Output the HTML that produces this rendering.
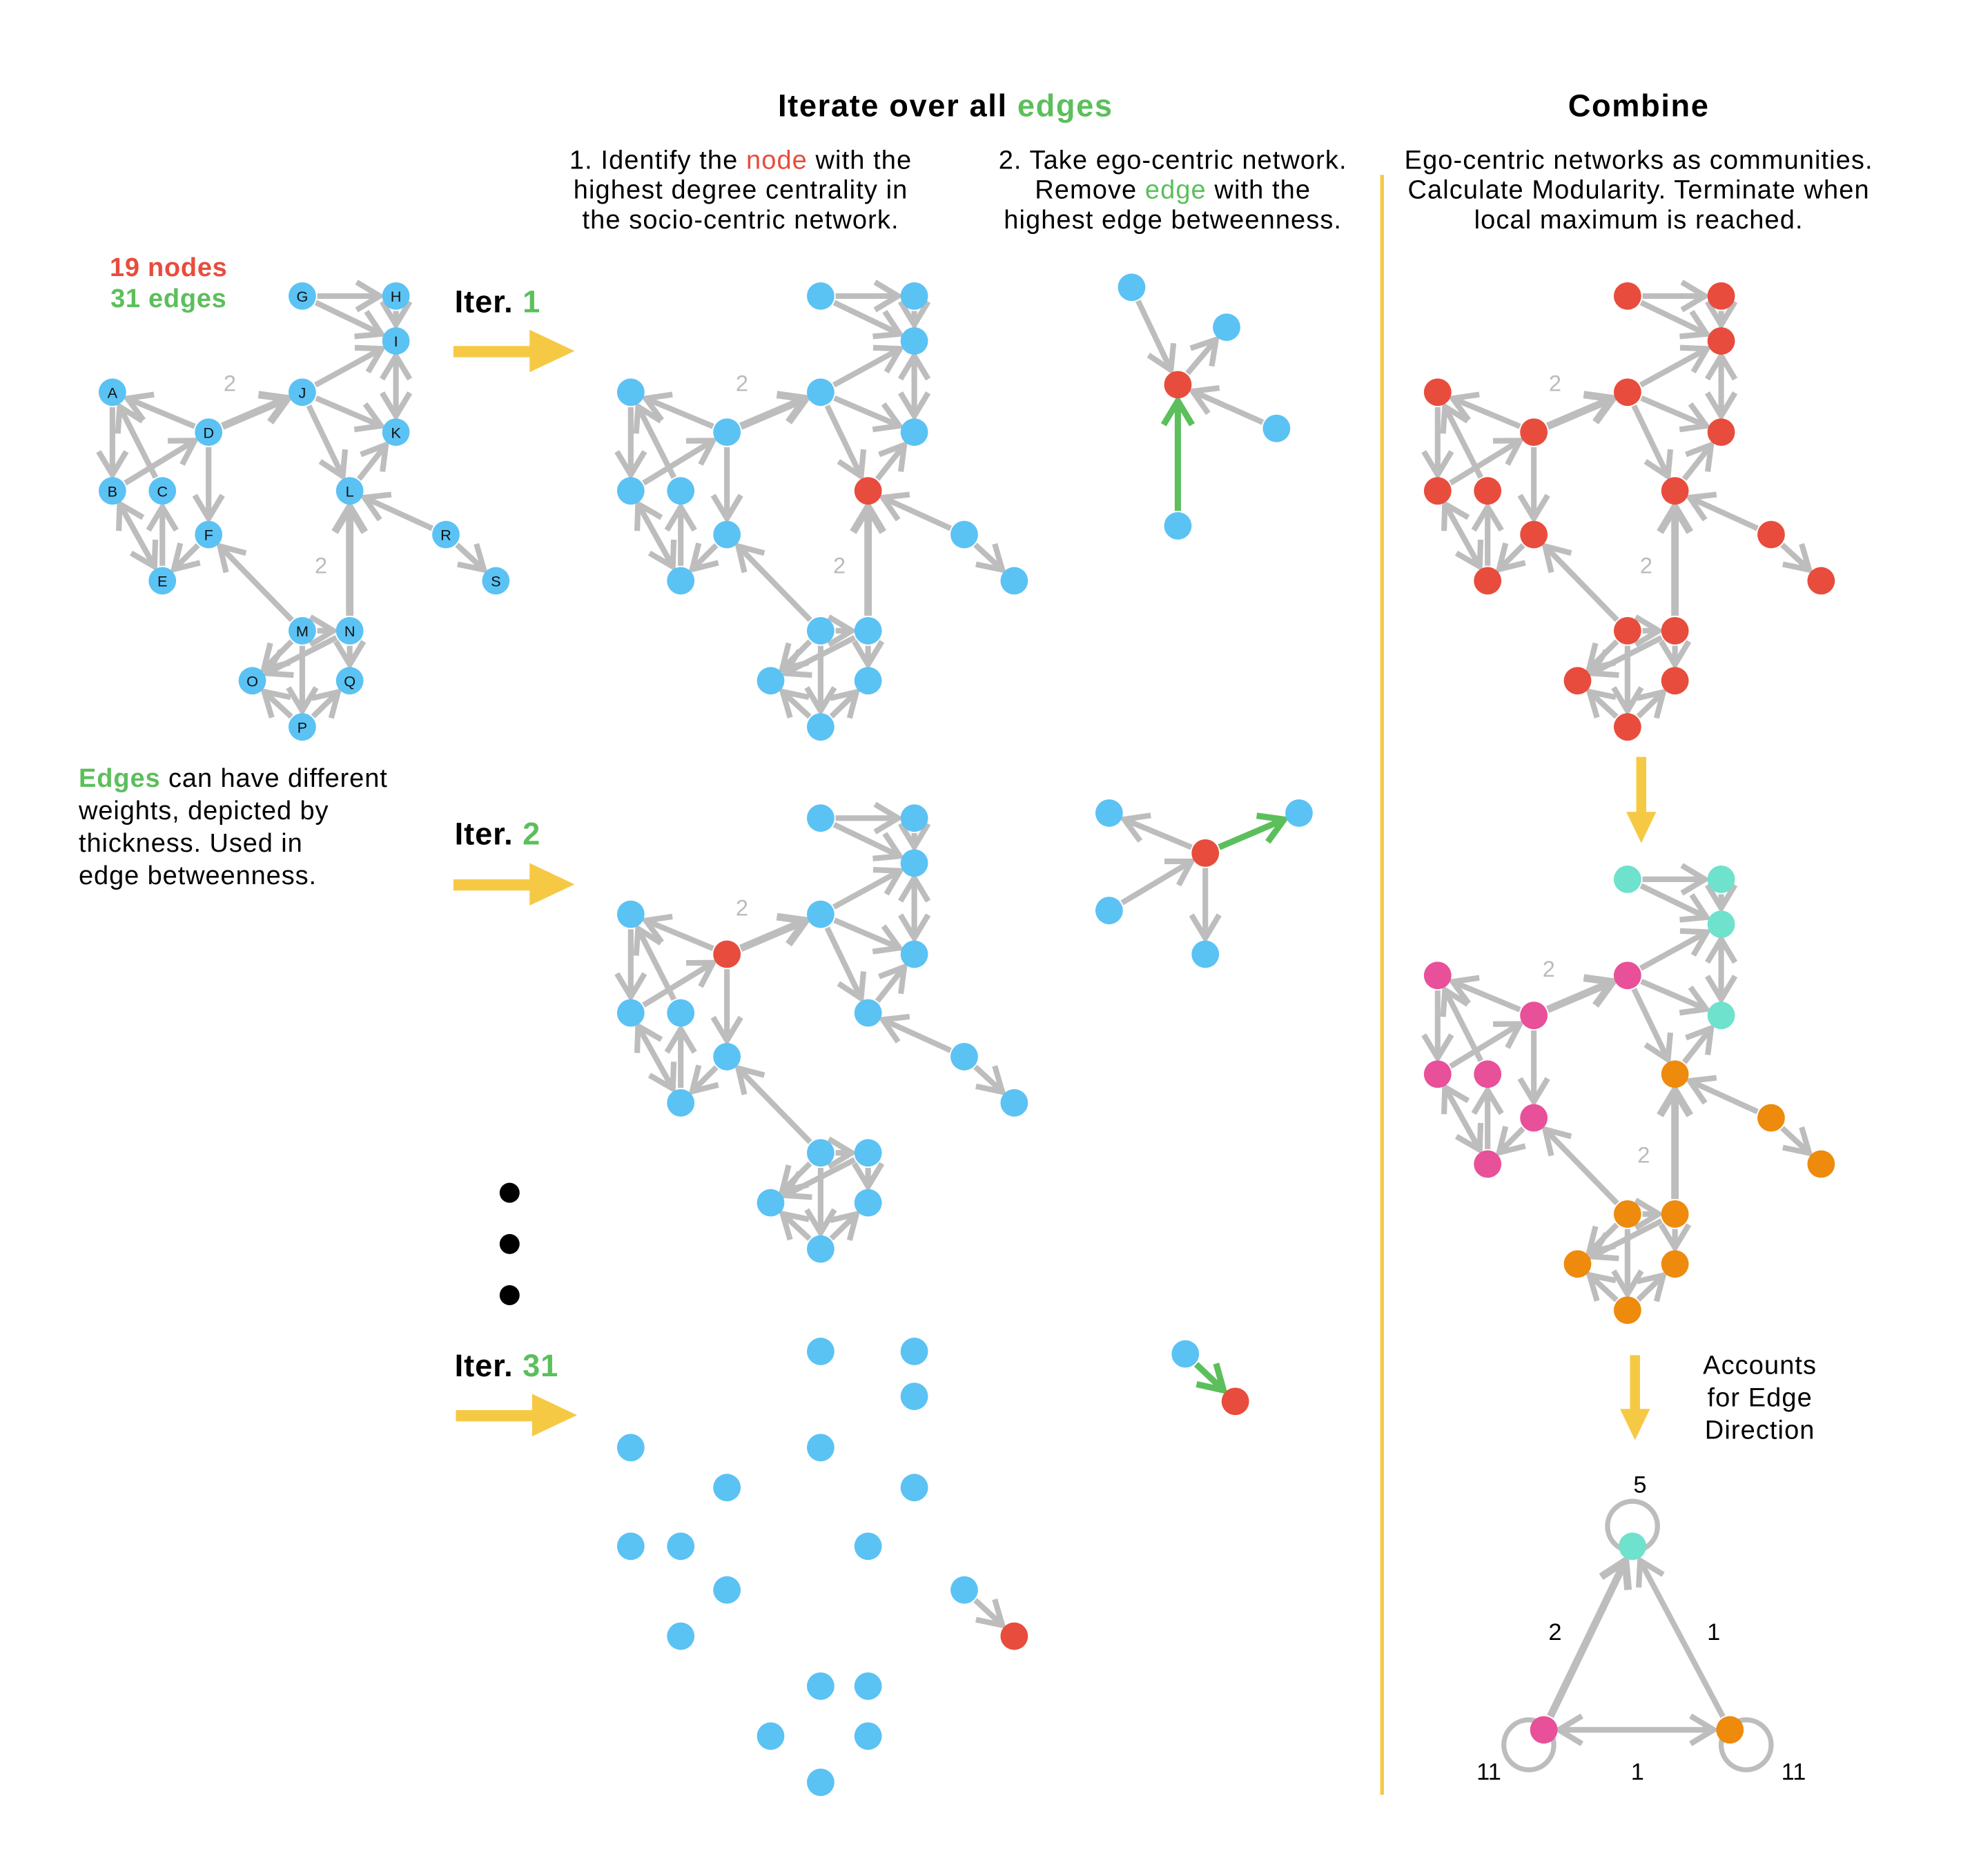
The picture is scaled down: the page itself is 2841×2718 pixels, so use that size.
<!DOCTYPE html>
<html><head><meta charset="utf-8">
<style>
html,body{margin:0;padding:0;background:#fff;}
svg{display:block;}
text{font-family:"Liberation Sans","DejaVu Sans",sans-serif;}
</style></head>
<body>
<svg id="s" width="2841" height="2718" viewBox="0 0 1570 1502" xmlns="http://www.w3.org/2000/svg">
<rect width="1570" height="1502" fill="#fff"/>
<g id="edges"></g>
<g id="nodes"></g>
<!-- titles -->
<text x="757" y="93" font-size="25" font-weight="bold" text-anchor="middle" letter-spacing="0.9">Iterate over all <tspan fill="#5cbf5c">edges</tspan></text>
<text x="1312" y="93" font-size="25" font-weight="bold" text-anchor="middle" letter-spacing="0.9">Combine</text>
<g font-size="21" text-anchor="middle" letter-spacing="0.6">
<text x="593" y="135">1. Identify the <tspan fill="#e84c3d">node</tspan> with the</text>
<text x="593" y="159">highest degree centrality in</text>
<text x="593" y="183">the socio-centric network.</text>
<text x="939" y="135">2. Take ego-centric network.</text>
<text x="939" y="159">Remove <tspan fill="#5cbf5c">edge</tspan> with the</text>
<text x="939" y="183">highest edge betweenness.</text>
<text x="1312" y="135">Ego-centric networks as communities.</text>
<text x="1312" y="159">Calculate Modularity. Terminate when</text>
<text x="1312" y="183">local maximum is reached.</text>
<text x="1409" y="1100">Accounts</text>
<text x="1409" y="1126">for Edge</text>
<text x="1409" y="1152">Direction</text>
</g>
<g font-size="21" font-weight="bold" text-anchor="middle" letter-spacing="0.4">
<text x="135" y="221" fill="#e84c3d">19 nodes</text>
<text x="135" y="246" fill="#5cbf5c">31 edges</text>
</g>
<g font-size="21" letter-spacing="0.5">
<text x="63" y="630"><tspan fill="#5cbf5c" font-weight="bold">Edges</tspan> can have different</text>
<text x="63" y="656">weights, depicted by</text>
<text x="63" y="682">thickness. Used in</text>
<text x="63" y="708">edge betweenness.</text>
</g>
<g font-size="25" font-weight="bold" letter-spacing="0.5">
<text x="364" y="250">Iter. <tspan fill="#5cbf5c">1</tspan></text>
<text x="364" y="676">Iter. <tspan fill="#5cbf5c">2</tspan></text>
<text x="364" y="1102">Iter. <tspan fill="#5cbf5c">31</tspan></text>
</g>
<g font-size="18" fill="#bbb" text-anchor="middle">
<text x="184" y="313">2</text><text x="257" y="459">2</text>
<text x="594" y="313">2</text><text x="672" y="459">2</text>
<text x="1245" y="313">2</text><text x="1318" y="459">2</text>
<text x="594" y="733">2</text>
<text x="1240" y="782">2</text><text x="1316" y="931">2</text>
</g>
<g font-size="19" text-anchor="middle">
<text x="1313" y="1195">5</text><text x="1245" y="1313">2</text><text x="1372" y="1313">1</text>
<text x="1192" y="1425">11</text><text x="1311" y="1425">1</text><text x="1436" y="1425">11</text>
</g>
<!-- yellow arrows -->
<g fill="#f6c945">
<rect x="363" y="277" width="64" height="9"/><polygon points="424,264 460,281 424,298"/>
<rect x="363" y="704" width="64" height="9"/><polygon points="424,691 460,708 424,725"/>
<rect x="365" y="1129" width="64" height="9"/><polygon points="426,1116 462,1133 426,1150"/>
<rect x="1310" y="606" width="8" height="46"/><polygon points="1302,650 1314,675 1326,650"/>
<rect x="1305" y="1085" width="8" height="45"/><polygon points="1297,1128 1309,1153 1321,1128"/>
<rect x="1105" y="140" width="3" height="1297"/>
</g>
<circle cx="408" cy="955" r="8"/><circle cx="408" cy="996" r="8"/><circle cx="408" cy="1037" r="8"/>
</svg>
<script>
(function(){
var NS="http://www.w3.org/2000/svg";
var E=document.getElementById("edges"),N=document.getElementById("nodes");
var GREY="#bdbdbd",BLUE="#5bc2f4",RED="#e84c3d",GREEN="#5cbf5c",TEAL="#6ee2cc",PINK="#e8509a",ORANGE="#ee8a0c";
function el(t,a,p){var e=document.createElementNS(NS,t);for(var k in a)e.setAttribute(k,a[k]);(p||E).appendChild(e);return e;}
var R=11;
function arrow(x1,y1,x2,y2,col,w,both,r){
  r=r||R;var dx=x2-x1,dy=y2-y1,L=Math.sqrt(dx*dx+dy*dy),ux=dx/L,uy=dy/L;
  var sx=x1+ux*(r+1),sy=y1+uy*(r+1),ex=x2-ux*(r+2),ey=y2-uy*(r+2);
  el("line",{x1:sx,y1:sy,x2:ex,y2:ey,stroke:col,"stroke-width":w});
  function head(tx,ty,vx,vy){var a=14+w,s=0.6;
    var px=-vy,py=vx;
    var p="M"+(tx-vx*a+px*a*s)+","+(ty-vy*a+py*a*s)+" L"+tx+","+ty+" L"+(tx-vx*a-px*a*s)+","+(ty-vy*a-py*a*s);
    el("path",{d:p,fill:"none",stroke:col,"stroke-width":w,"stroke-linejoin":"miter"});}
  head(ex,ey,ux,uy); if(both)head(sx,sy,-ux,-uy);
}
var P={G:[242,237],H:[317,237],I:[317,273],J:[242,314],K:[317,346],A:[90,314],D:[167,346],B:[90,393],C:[130,393],L:[280,393],F:[167,428],E:[130,465],R:[357,428],S:[397,465],M:[242,505],N:[280,505],O:[202,545],Q:[280,545],P:[242,582]};
var ED=[["G","H"],["G","I"],["H","I"],["J","I"],["I","K",0,1],["J","K"],["J","L"],["L","K"],["D","J",1],["D","A"],["C","A"],["A","B"],["B","D"],["D","F"],["F","E"],["B","E",0,1],["E","C"],["R","L"],["R","S"],["N","L",1],["M","F"],["M","N"],["M","O"],["N","O"],["N","Q"],["M","P"],["P","O"],["P","Q"]];
function graph(dx,dy,edges,colfn,labels){
  edges.forEach(function(e){var a=P[e[0]],b=P[e[1]];arrow(a[0]+dx,a[1]+dy,b[0]+dx,b[1]+dy,GREY,e[2]?6:4.5,e[3]);});
  for(var k in P){var c=colfn(k);if(!c)continue;el("circle",{cx:P[k][0]+dx,cy:P[k][1]+dy,r:R,fill:c},N);
    if(labels){var t=el("text",{x:P[k][0]+dx,y:P[k][1]+dy+4.5,"font-size":12,"text-anchor":"middle",fill:"#111"},N);t.textContent=k;}}
}
graph(0,0,ED,function(){return BLUE;},true);
graph(415,0,ED,function(k){return k=="L"?RED:BLUE;});
graph(1061,0,ED,function(){return RED;});
var ED2=ED.filter(function(e){return !(e[0]=="N"&&e[1]=="L");});
graph(415,418,ED2,function(k){return k=="D"?RED:BLUE;});
var com={G:TEAL,H:TEAL,I:TEAL,K:TEAL,A:PINK,B:PINK,C:PINK,D:PINK,E:PINK,F:PINK,J:PINK};
graph(1061,467,ED,function(k){return com[k]||ORANGE;});
graph(415,845,[["R","S"]],function(k){return k=="S"?RED:BLUE;});
function ego(c,list){list.forEach(function(e){var col=e[3]?GREEN:GREY,w=e[3]?5:4.5;
  if(e[2])arrow(e[0],e[1],c[0],c[1],col,w);else arrow(c[0],c[1],e[0],e[1],col,w);});
  list.forEach(function(e){el("circle",{cx:e[0],cy:e[1],r:R,fill:BLUE},N);});
  el("circle",{cx:c[0],cy:c[1],r:R,fill:RED},N);}
ego([943,308],[[906,230,1],[982,262,0],[1022,343,1],[943,421,1,1]]);
ego([965,683],[[888,651,0],[888,729,1],[965,764,0],[1040,651,0,1]]);
arrow(949,1084,989,1122,GREEN,5);
el("circle",{cx:949,cy:1084,r:R,fill:BLUE},N);el("circle",{cx:989,cy:1122,r:R,fill:RED},N);
el("circle",{cx:1307,cy:1222,r:20,fill:"none",stroke:GREY,"stroke-width":4});
el("circle",{cx:1224,cy:1397,r:20,fill:"none",stroke:GREY,"stroke-width":4});
el("circle",{cx:1398,cy:1397,r:20,fill:"none",stroke:GREY,"stroke-width":4});
arrow(1236,1385,1307,1238,GREY,6);
arrow(1385,1385,1307,1238,GREY,4.5);
arrow(1236,1385,1385,1385,GREY,4.5,1);
el("circle",{cx:1307,cy:1238,r:R,fill:TEAL},N);
el("circle",{cx:1236,cy:1385,r:R,fill:PINK},N);
el("circle",{cx:1385,cy:1385,r:R,fill:ORANGE},N);
})();
</script>
</body></html>
